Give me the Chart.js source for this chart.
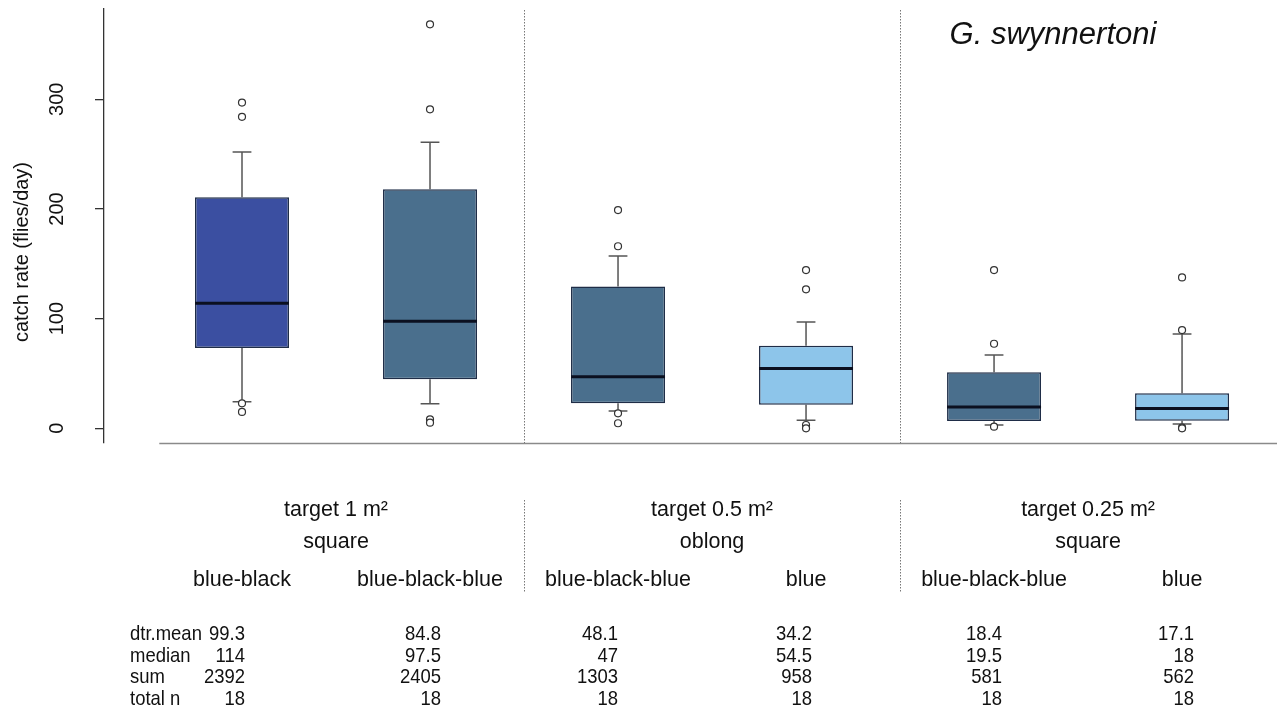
<!DOCTYPE html>
<html>
<head>
<meta charset="utf-8">
<script src="https://cdn.jsdelivr.net/npm/chart.js@4/dist/chart.umd.min.js"></script>
<style>
  html, body { margin: 0; padding: 0; background: #fff; overflow: hidden; }
  #wrap { width: 1277px; height: 712px; position: relative; }
</style>
</head>
<body>
<div id="wrap"><canvas id="cajas"></canvas></div>
<script>
// Color del blanco (una caja por categoría) y grupos de tamaño/forma
const categorias = ['blue-black', 'blue-black-blue', 'blue-black-blue', 'blue', 'blue-black-blue', 'blue'];
const grupos = ['target 1 m²', 'target 0.5 m²', 'target 0.25 m²'];
const formas = ['square', 'oblong', 'square'];

// Estadísticas de las cajas (moscas/día)
const q1 = [73.2, 44.7, 22.8, 21.5, 6.7, 6.9];
const medianas = [114, 97.5, 47, 54.5, 19.5, 18];
const q3 = [210.6, 218, 129.4, 75.3, 51, 31.9];
const bigoteInf = [24.3, 22.4, 15.8, 7.3, 3, 3.9];
const bigoteSup = [252, 260.7, 157, 96.9, 66.8, 86];
const atipicos = [
  [297, 284, 22.8, 14.9],
  [368.3, 290.8, 8.2, 5.1],
  [199, 166, 13.7, 4.6],
  [144.3, 126.7, 3, 0],
  [144.3, 77.1, 1.5],
  [137.6, 89.6, 0.6, 0]
];
const yTicks = [0, 100, 200, 300];

// Tabla inferior
const filas = ['dtr.mean', 'median', 'sum', 'total n'];
const dtrMean = [99.3, 84.8, 48.1, 34.2, 18.4, 17.1];
const sumas = [2392, 2405, 1303, 958, 581, 562];
const totalN = [18, 18, 18, 18, 18, 18];

const coloresCaja = ['#3b4fa1', '#4a6f8d', '#4a6f8d', '#8dc5ea', '#4a6f8d', '#8dc5ea'];
const fuente = 'Liberation Sans, Arial, sans-serif';

// Segmentos de bigotes y medianas (null corta la línea)
const capa = 0.05;
const bigotes = [];
const lineasMediana = [];
categorias.forEach((_, i) => {
  bigotes.push({ x: i, y: q3[i] }, { x: i, y: bigoteSup[i] }, { x: i, y: null });
  bigotes.push({ x: i - capa, y: bigoteSup[i] }, { x: i + capa, y: bigoteSup[i] }, { x: i, y: null });
  bigotes.push({ x: i, y: q1[i] }, { x: i, y: bigoteInf[i] }, { x: i, y: null });
  bigotes.push({ x: i - capa, y: bigoteInf[i] }, { x: i + capa, y: bigoteInf[i] }, { x: i, y: null });
  lineasMediana.push({ x: i - 0.25, y: medianas[i] }, { x: i + 0.25, y: medianas[i] }, { x: i, y: null });
});
const puntosAtipicos = [];
atipicos.forEach((lista, i) => lista.forEach(v => puntosAtipicos.push({ x: i, y: v })));

// Texto algo estrechado, como en la tabla original
function textoEstrecho(ctx, texto, px, py) {
  ctx.save();
  ctx.translate(px, py);
  ctx.scale(0.88, 1);
  ctx.fillText(texto, 0, 0);
  ctx.restore();
}

// Ejes sueltos, separadores, títulos y tabla
const decoracion = {
  id: 'decoracion',
  afterDraw(chart) {
    const { ctx, chartArea, scales: { x } } = chart;
    ctx.save();

    // línea base horizontal
    ctx.strokeStyle = '#8a8a8a';
    ctx.lineWidth = 1.3;
    ctx.beginPath();
    ctx.moveTo(x.getPixelForValue(-0.44), chartArea.bottom + 0.5);
    ctx.lineTo(chartArea.right, chartArea.bottom + 0.5);
    ctx.stroke();

    // separadores punteados entre grupos
    ctx.strokeStyle = '#777';
    ctx.lineWidth = 1;
    ctx.setLineDash([1.5, 1.5]);
    [1.5, 3.5].forEach(v => {
      const px = Math.round(x.getPixelForValue(v)) + 0.5;
      ctx.beginPath();
      ctx.moveTo(px, chartArea.top + 1);
      ctx.lineTo(px, chartArea.bottom);
      ctx.moveTo(px, 500);
      ctx.lineTo(px, 592);
      ctx.stroke();
    });
    ctx.setLineDash([]);

    ctx.fillStyle = '#111';

    // título del eje y
    ctx.save();
    ctx.translate(22, 252);
    ctx.rotate(-Math.PI / 2);
    ctx.font = '20px ' + fuente;
    ctx.textAlign = 'center';
    ctx.textBaseline = 'middle';
    ctx.fillText('catch rate (flies/day)', 0, 0);
    ctx.restore();

    // especie
    ctx.font = 'italic 31px ' + fuente;
    ctx.textAlign = 'center';
    ctx.textBaseline = 'alphabetic';
    ctx.fillText('G. swynnertoni', 1053, 44);

    // encabezados de la tabla
    ctx.font = '21.5px ' + fuente;
    grupos.forEach((g, k) => {
      const cx = x.getPixelForValue(2 * k + 0.5);
      ctx.fillText(g, cx, 516);
      ctx.fillText(formas[k], cx, 548);
    });
    categorias.forEach((c, i) => ctx.fillText(c, x.getPixelForValue(i), 586));

    // filas de valores
    ctx.font = '21px ' + fuente;
    const base = [640, 661.5, 683, 704.5];
    const ajuste = [3, 11, 0, 6, 8, 12];
    const columnas = [dtrMean, medianas, sumas, totalN];
    ctx.textAlign = 'left';
    filas.forEach((f, r) => textoEstrecho(ctx, f, 130, base[r]));
    ctx.textAlign = 'right';
    columnas.forEach((col, r) => {
      col.forEach((v, i) => textoEstrecho(ctx, String(v), x.getPixelForValue(i) + ajuste[i], base[r]));
    });

    ctx.restore();
  }
};

new Chart(document.getElementById('cajas'), {
  type: 'bar',
  data: {
    datasets: [
      {
        type: 'bar',
        label: 'caja',
        data: categorias.map((c, i) => ({ x: i, y: [q1[i], q3[i]] })),
        backgroundColor: coloresCaja,
        borderColor: '#1f2d47',
        borderWidth: 1.5,
        borderSkipped: false,
        barPercentage: 0.5,
        categoryPercentage: 1,
        order: 2
      },
      {
        type: 'line',
        label: 'bigotes',
        data: bigotes,
        borderColor: '#555',
        borderWidth: 1.5,
        pointRadius: 0,
        pointHitRadius: 0,
        spanGaps: false,
        order: 3
      },
      {
        type: 'line',
        label: 'mediana',
        data: lineasMediana,
        borderColor: '#0b1020',
        borderWidth: 3,
        pointRadius: 0,
        pointHitRadius: 0,
        spanGaps: false,
        order: 1
      },
      {
        type: 'scatter',
        label: 'atipicos',
        data: puntosAtipicos,
        pointStyle: 'circle',
        pointRadius: 3.5,
        pointBackgroundColor: '#fff',
        pointBorderColor: '#333',
        pointBorderWidth: 1.2,
        order: 0
      }
    ]
  },
  options: {
    responsive: true,
    maintainAspectRatio: false,
    animation: false,
    events: [],
    layout: { autoPadding: false, padding: { top: 9, bottom: 269, left: 0, right: 0 } },
    plugins: { legend: { display: false }, tooltip: { enabled: false } },
    scales: {
      x: {
        type: 'linear', min: -0.734, max: 5.505, offset: false, display: false,
        afterBuildTicks: s => { s.ticks = categorias.map((c, i) => ({ value: i })); }
      },
      y: {
        min: -13.4,
        max: 382.3,
        afterBuildTicks: s => { s.ticks = yTicks.map(v => ({ value: v })); },
        afterFit: s => { s.width = 104; s.paddingTop = 0; s.paddingBottom = 0; },
        border: { display: true, color: '#333', width: 1.3 },
        grid: { drawOnChartArea: false, drawTicks: true, tickLength: 9, color: '#333', lineWidth: 1.3 },
        ticks: {
          minRotation: 90,
          maxRotation: 90,
          crossAlign: 'center',
          padding: 21,
          color: '#111',
          font: { family: fuente, size: 20 }
        }
      }
    }
  },
  plugins: [decoracion]
});
</script>
</body>
</html>
